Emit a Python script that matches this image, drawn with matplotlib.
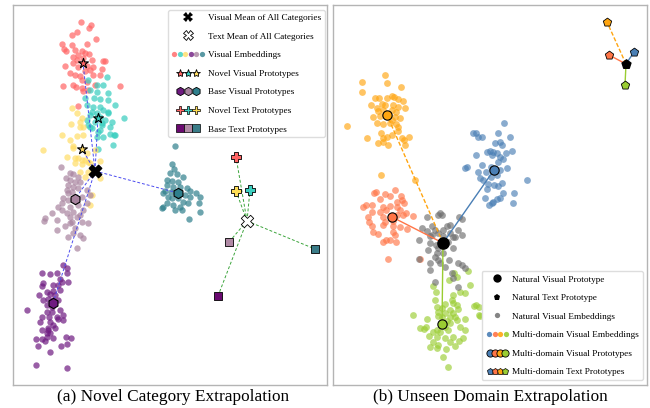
import numpy as np
import matplotlib.pyplot as plt
from matplotlib.lines import Line2D
from matplotlib.legend_handler import HandlerBase

plt.rcParams['font.family'] = ['Liberation Serif', 'DejaVu Serif']

# all positions in its pixel frame (y grows downward)

# ---------------- panel (a) ----------------
red_pts = np.array([(81,22),(91,25),(89,28),(77,32),(72,35),(96,39),(62,44),(72,45),(87,44),(64,49),
                    (66,51),(75,50),(82,51),(85,53),(78,55),(89,54),(83,58),(73,57),(77,60),(92,60),
                    (103,61),(105,61),(65,66),(73,63),(78,67),(87,66),(93,67),(102,69),(90,70),(85,71),
                    (70,73),(75,75),(80,76),(93,75),(100,75),(82,80),(87,82),(95,85),(63,86),(73,85),
                    (76,87),(82,88),(120,86),(88,90),(83,91),(78,106)])
turq_pts = np.array([(88,80),(107,77),(97,85),(103,85),(90,90),(97,92),(108,93),(85,98),(94,98),(100,99),
                     (108,100),(115,105),(87,105),(93,107),(100,107),(103,110),(108,112),(97,113),(90,115),
                     (97,117),(124,118),(110,127),(114,135),(100,130),(97,137),(113,145),(87,120),(90,127),
                     (102,123),(92,112),(100,117),(108,113),(102,125),(92,128),(98,132),(110,134),(115,135),
                     (103,137),(98,149),(88,125),(95,122),(105,120),(112,122)])
yellow_pts = np.array([(72,108),(82,118),(77,113),(71,124),(80,127),(80,122),(83,127),(77,136),(70,140),
                       (43,150),(73,148),(87,153),(82,160),(75,158),(88,162),(83,135),(73,146),(67,157),
                       (78,158),(85,160),(82,164),(90,163),(75,163),(100,161),(88,172),(80,172),(85,177),
                       (100,178),(90,205),(92,195),(62,135),(95,150)])
mauve_pts = np.array([(61,167),(70,173),(73,174),(78,177),(70,180),(75,182),(80,182),(68,185),(73,187),
                      (78,188),(67,190),(72,192),(87,190),(68,193),(63,198),(68,200),(82,197),(90,195),
                      (62,203),(58,207),(70,207),(78,205),(87,203),(52,213),(67,213),(73,212),(83,210),
                      (70,217),(77,217),(45,218),(44,221),(57,220),(72,222),(82,222),(88,223),(57,230),
                      (68,237),(80,235),(83,238),(77,248),(70,223),(73,233),(65,226),(75,228),(62,210),
                      (80,215),(66,178)])
purple_pts = np.array([(63,265),(67,268),(42,273),(50,274),(57,273),(60,279),(62,282),(68,282),(43,283),
                       (42,286),(53,285),(58,285),(47,292),(53,291),(60,290),(55,295),(50,294),(39,295),
                       (43,300),(48,299),(58,300),(47,305),(52,307),(60,310),(27,310),(47,312),(52,312),
                       (57,317),(63,315),(42,317),(58,319),(49,317),(50,322),(40,322),(63,320),(53,325),
                       (42,330),(48,328),(55,328),(47,333),(36,339),(42,339),(47,337),(53,338),(66,337),
                       (71,338),(45,341),(38,346),(61,346),(67,344),(50,352),(36,365),(67,368),(53,300),
                       (50,333),(48,330),(67,273)])
teal_pts = np.array([(175,146),(172,164),(174,169),(170,173),(177,174),(183,177),(167,180),(172,181),
                     (178,182),(167,185),(173,187),(187,188),(190,191),(196,193),(165,191),(163,193),
                     (171,192),(185,195),(200,197),(172,198),(178,198),(183,202),(188,203),(167,203),
                     (173,205),(199,203),(163,207),(180,207),(162,208),(175,210),(182,210),(200,212),
                     (189,219),(168,197),(190,197),(180,187)])

vis_mean = (95, 171)
txt_mean = (247, 221)
novel_vis = {'red': (83, 63), 'turq': (98, 118), 'yellow': (82, 149)}
base_vis = {'purple': (53, 303), 'mauve': (75, 199), 'teal': (178, 193)}
novel_txt = {'red': (236, 157), 'turq': (250, 190), 'yellow': (236, 191)}
base_txt = {'purple': (218, 296), 'mauve': (229, 242), 'teal': (315, 249)}

col_a = {'red': '#FF6464', 'turq': '#36CDBE', 'yellow': '#FFDD66',
         'purple': '#6E1A80', 'mauve': '#A8839F', 'teal': '#2F7F8C'}
txt_col_a = {'red': '#FF6464', 'turq': '#3CCFC0', 'yellow': '#FFDD55',
             'purple': '#6A0A70', 'mauve': '#B08AA5', 'teal': '#3A7C88'}

# ---------------- panel (b) ----------------
orange_pts = np.array([(385,75),(362,82),(387,83),(362,92),(401,87),(375,98),(379,98),(387,98),(392,96),
                       (394,97),(398,99),(403,101),(371,105),(377,108),(382,104),(385,105),(393,105),
                       (398,107),(378,111),(383,110),(392,110),(396,112),(405,108),(373,117),(380,116),
                       (395,117),(400,118),(347,126),(377,123),(383,124),(390,123),(396,124),(398,127),
                       (392,120),(367,138),(381,133),(383,138),(387,137),(392,135),(402,138),(409,137),
                       (378,143),(383,142),(388,145),(404,140),(405,145),(398,131),(381,175),(415,180)])
coral_pts = np.array([(395,190),(376,192),(374,193),(385,194),(390,196),(401,196),(380,199),(397,202),
                      (402,200),(366,205),(363,207),(372,205),(383,207),(390,206),(397,207),(404,203),
                      (372,212),(380,212),(386,210),(400,210),(406,213),(368,217),(383,217),(397,215),
                      (403,215),(413,216),(369,222),(385,222),(393,221),(372,226),(383,225),(400,227),
                      (393,226),(407,229),(373,232),(378,234),(393,232),(395,235),(386,240),(383,242),
                      (390,240),(396,242),(388,259),(420,259)])
blue_pts = np.array([(504,123),(473,133),(476,133),(478,137),(482,137),(498,133),(510,137),(495,143),
                     (500,142),(502,145),(487,152),(490,151),(493,152),(497,153),(506,153),(512,151),
                     (476,155),(492,155),(500,157),(503,159),(498,162),(482,165),(467,167),(465,168),
                     (491,167),(478,172),(507,168),(500,170),(480,178),(483,180),(491,177),(497,175),
                     (527,180),(488,184),(494,185),(498,186),(502,183),(487,189),(503,193),(514,193),
                     (485,198),(497,199),(500,198),(493,202),(513,203),(489,205),(492,203),(486,172)])
grey_pts = np.array([(438,215),(442,215),(427,217),(459,217),(462,219),(432,226),(447,226),(450,225),
                     (435,230),(443,230),(458,230),(427,231),(438,233),(450,233),(453,237),(443,236),
                     (430,236),(462,235),(419,240),(430,243),(438,248),(428,250),(437,253),(430,263),
                     (438,260),(432,235),(436,245),(448,242),(453,248),(435,257),(443,253),(449,260),
                     (458,263),(430,270),(440,263),(452,273),(462,265),(465,268),(453,278),(455,237),
                     (445,267),(419,259),(435,282),(458,287),(440,213),(422,228)])
green_pts = np.array([(468,271),(454,273),(457,277),(449,280),(470,285),(433,286),(460,292),(465,293),
                      (436,292),(453,295),(435,300),(452,300),(453,303),(445,304),(474,306),(479,307),
                      (437,307),(442,308),(458,309),(450,310),(438,312),(445,313),(453,313),(413,315),
                      (442,317),(450,317),(455,317),(465,319),(480,316),(427,319),(457,320),(447,321),
                      (438,316),(426,327),(420,328),(424,329),(450,323),(460,327),(445,327),(437,330),
                      (433,332),(440,332),(448,330),(429,336),(437,337),(445,338),(453,337),(463,338),
                      (450,342),(433,342),(459,341),(438,345),(455,346),(437,348),(446,349),(430,347),
                      (443,357),(448,367),(465,330),(457,305),(476,305),(479,315)])

nat_vis = (443, 243)
nat_txt = (626, 64)
dom_vis = {'blue': (494, 170), 'coral': (392, 217), 'orange': (387, 115), 'green': (442, 324)}
dom_txt = {'blue': (634, 52), 'coral': (609, 55), 'orange': (607, 22), 'green': (625, 85)}
col_b = {'blue': '#4A7FB5', 'coral': '#FF7547', 'orange': '#FFA510', 'green': '#9ACD32'}


class Row:
    def __init__(self, marker, colors, ms, step, edge=None, alpha=1.0, mew=0.8):
        self.marker, self.colors, self.ms, self.step = marker, colors, ms, step
        self.edge, self.alpha, self.mew = edge, alpha, mew


class RowHandler(HandlerBase):
    def create_artists(self, legend, h, xd, yd, width, height, fontsize, trans):
        n = len(h.colors)
        x0 = width / 2 - h.step * (n - 1) / 2 - xd
        out = []
        for i, c in enumerate(h.colors):
            out.append(Line2D([x0 + i * h.step], [height / 2 - yd], marker=h.marker, ms=h.ms,
                              mfc=c, mec=h.edge if h.edge else c, mew=h.mew if h.edge else 0,
                              alpha=h.alpha, ls='none', transform=trans))
        return out


W, H = 650, 408
fig = plt.figure(figsize=(6.5, 4.08), dpi=100)
axa = fig.add_axes([13 / W, 1 - 385 / H, 314 / W, 380 / H])
axb = fig.add_axes([333 / W, 1 - 385 / H, 314 / W, 380 / H])
axa.set_xlim(13, 327); axa.set_ylim(385, 5)
axb.set_xlim(333, 647); axb.set_ylim(385, 5)
for ax in (axa, axb):
    ax.set_xticks([]); ax.set_yticks([])
    for s in ax.spines.values():
        s.set_color('#b4b4b4'); s.set_linewidth(1.0)

# panel (a)
clusters_a = [('red', red_pts), ('turq', turq_pts), ('yellow', yellow_pts),
              ('mauve', mauve_pts), ('purple', purple_pts), ('teal', teal_pts)]
for k, p in clusters_a:
    axa.scatter(p[:, 0], p[:, 1], s=21, color=col_a[k], alpha=0.7, lw=0, zorder=2)

for p in list(novel_vis.values()) + list(base_vis.values()):
    axa.plot([vis_mean[0], p[0]], [vis_mean[1], p[1]], color='#4B4BF0', lw=0.7, ls=(0, (3, 2)), zorder=3)
for p in list(novel_txt.values()) + list(base_txt.values()):
    axa.plot([txt_mean[0], p[0]], [txt_mean[1], p[1]], color='#3CA53C', lw=0.7, ls=(0, (3, 2)), zorder=3)

for k, p in novel_vis.items():
    axa.scatter(*p, marker='*', s=55, color=col_a[k], edgecolor='black', lw=0.8, zorder=4)
for k, p in base_vis.items():
    axa.scatter(*p, marker='h', s=55, color=col_a[k], edgecolor='black', lw=0.8, zorder=4)
for k, p in novel_txt.items():
    axa.scatter(*p, marker='P', s=55, color=txt_col_a[k], edgecolor='black', lw=0.6, zorder=4)
for k, p in base_txt.items():
    axa.scatter(*p, marker='s', s=40, color=txt_col_a[k], edgecolor='black', lw=0.6, zorder=4)
axa.scatter(*vis_mean, marker='X', s=80, color='black', zorder=5)
axa.scatter(*txt_mean, marker='X', s=80, color='white', edgecolor='black', lw=0.6, zorder=5)

hand_a = [Row('X', ['black'], 6.5, 0),
          Row('X', ['white'], 6.5, 0, edge='black', mew=0.6),
          Row('o', [col_a[k] for k in ['red', 'turq', 'yellow', 'purple', 'mauve', 'teal']], 3.8, 4.0, alpha=0.8),
          Row('*', [col_a[k] for k in ['red', 'turq', 'yellow']], 6.0, 6.0, edge='black', mew=0.6),
          Row('h', [col_a[k] for k in ['purple', 'mauve', 'teal']], 6.0, 6.0, edge='black', mew=0.6),
          Row('P', [txt_col_a[k] for k in ['red', 'turq', 'yellow']], 6.0, 6.0, edge='black', mew=0.5),
          Row('s', [txt_col_a[k] for k in ['purple', 'mauve', 'teal']], 5.2, 6.0, edge='black', mew=0.5)]
lab_a = ['Visual Mean of All Categories', 'Text Mean of All Categories', 'Visual Embeddings',
         'Novel Visual Prototypes', 'Base Visual Prototypes', 'Novel Text Prototypes', 'Base Text Prototypes']
axa.legend(hand_a, lab_a, handler_map={Row: RowHandler()}, loc='upper right',
           bbox_to_anchor=(0.994, 0.987), borderaxespad=0, fontsize=6.7, handlelength=3.5,
           handletextpad=0.4, labelspacing=1.08, framealpha=1, edgecolor='#dddddd')

# panel (b)
clusters_b = [('orange', orange_pts), ('coral', coral_pts), ('blue', blue_pts), ('green', green_pts)]
for k, p in clusters_b:
    axb.scatter(p[:, 0], p[:, 1], s=24, color=col_b[k], alpha=0.65, lw=0, zorder=2)
axb.scatter(grey_pts[:, 0], grey_pts[:, 1], s=24, color='#6E6E6E', alpha=0.65, lw=0, zorder=2)

for k, p in dom_vis.items():
    ls = (0, (3, 1.5)) if k == 'orange' else '-'
    axb.plot([nat_vis[0], p[0]], [nat_vis[1], p[1]], color=col_b[k], lw=1.0, ls=ls, zorder=3)
    axb.scatter(*p, marker='o', s=45, color=col_b[k], edgecolor='black', lw=0.8, zorder=4)
for k, p in dom_txt.items():
    ls = (0, (3, 1.5)) if k == 'orange' else '-'
    axb.plot([nat_txt[0], p[0]], [nat_txt[1], p[1]], color=col_b[k], lw=1.0, ls=ls, zorder=3)
    axb.scatter(*p, marker='p', s=40, color=col_b[k], edgecolor='black', lw=0.6, zorder=4)
axb.scatter(*nat_vis, marker='o', s=65, color='black', zorder=5)
axb.scatter(*nat_txt, marker='p', s=45, color='black', zorder=5)

order_b = ['blue', 'coral', 'orange', 'green']
hand_b = [Row('o', ['black'], 6.0, 0),
          Row('p', ['black'], 5.0, 0),
          Row('o', ['#777777'], 3.8, 0, alpha=0.9),
          Row('o', [col_b[k] for k in order_b], 3.8, 4.0, alpha=0.9),
          Row('o', [col_b[k] for k in order_b], 5.2, 3.8, edge='black', mew=0.6),
          Row('p', [col_b[k] for k in order_b], 4.8, 3.8, edge='black', mew=0.5)]
lab_b = ['Natural Visual Prototype', 'Natural Text Prototype', 'Natural Visual Embeddings',
         'Multi-domain Visual Embeddings', 'Multi-domain Visual Prototypes', 'Multi-domain Text Prototypes']
axb.legend(hand_b, lab_b, handler_map={Row: RowHandler()}, loc='lower right',
           bbox_to_anchor=(0.987, 0.013), borderaxespad=0, fontsize=6.7, handlelength=2.6,
           handletextpad=0.3, labelspacing=1.08, framealpha=1, edgecolor='#dddddd')

fig.text(173 / W, 1 - 397 / H, '(a) Novel Category Extrapolation', ha='center', va='center', fontsize=12.4)
fig.text(490 / W, 1 - 397 / H, '(b) Unseen Domain Extrapolation', ha='center', va='center', fontsize=12.4)

fig.savefig('out.png', dpi=100)
